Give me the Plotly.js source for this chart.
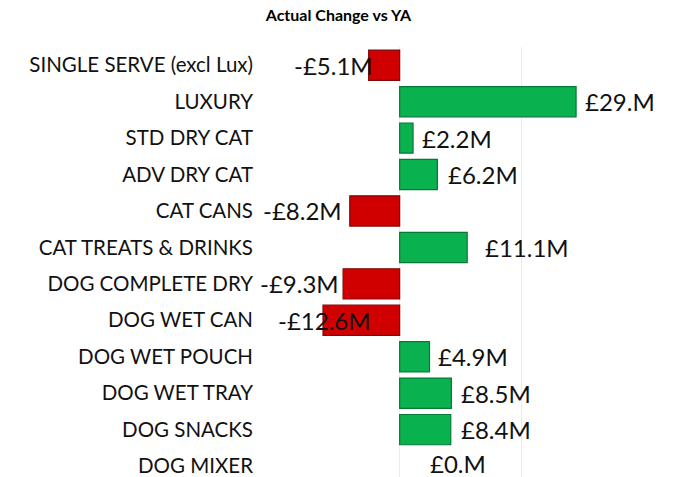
<!DOCTYPE html>
<html>
<head>
<meta charset="utf-8">
<script src="https://cdn.plot.ly/plotly-3.0.1.min.js"></script>
<style>html,body{margin:0;padding:0;background:#fff;}#chart{width:677px;height:477px;}</style>
</head>
<body>
<div id="chart"></div>
<script>
const categories = ['SINGLE SERVE (excl Lux)', 'LUXURY', 'STD DRY CAT', 'ADV DRY CAT', 'CAT CANS', 'CAT TREATS & DRINKS', 'DOG COMPLETE DRY', 'DOG WET CAN', 'DOG WET POUCH', 'DOG WET TRAY', 'DOG SNACKS', 'DOG MIXER'];
const values = [-5.1, 29.0, 2.2, 6.2, -8.2, 11.1, -9.3, -12.6, 4.9, 8.5, 8.4, 0.0];
const valueLabels = ['-£5.1M', '£29.M', '£2.2M', '£6.2M', '-£8.2M', '£11.1M', '-£9.3M', '-£12.6M', '£4.9M', '£8.5M', '£8.4M', '£0.M'];
const xTicks = [-20, 0, 20, 40];

// label placement offsets in pixels (style only)
const labelShift = [6, 7, 7, 9, -6, 16, -2, 50, 7, 8, 8, 28];
const labelLift = [0, 0, 0, 0, 0, 0, 0, 0, 0, 0, 0, 3];

const GREEN = '#0AB14F', GREEN_EDGE = '#067A34';
const RED = '#D10000', RED_EDGE = '#7E0A0A';

const colors = values.map(v => v < 0 ? RED : GREEN);
const edges = values.map(v => v < 0 ? RED_EDGE : GREEN_EDGE);
const edgeWidths = values.map(v => v === 0 ? 0 : 1.2);

const trace = {
  type: 'bar',
  orientation: 'h',
  y: categories,
  x: values,
  marker: {color: colors, line: {color: edges, width: edgeWidths}},
  hoverinfo: 'skip'
};

const annotations = values.map((v, i) => ({
  x: v, y: categories[i], xref: 'x', yref: 'y',
  text: valueLabels[i], showarrow: false,
  xanchor: v < 0 ? 'right' : 'left',
  xshift: labelShift[i],
  yshift: labelLift[i],
  font: {family: 'Lato, "Open Sans", sans-serif', size: 24, color: '#111'}
}));

const layout = {
  width: 677, height: 477,
  margin: {l: 278, r: 34, t: 47, b: 0, pad: 0},
  paper_bgcolor: '#fff', plot_bgcolor: '#fff',
  title: {text: '<b>Actual Change vs YA</b>', x: 0.5, xanchor: 'center', y: 0.968, yanchor: 'middle',
          font: {family: 'Lato, "Open Sans", sans-serif', size: 16, color: '#000'}},
  bargap: 0.17,
  showlegend: false,
  xaxis: {range: [-20, 40], tickvals: xTicks, showticklabels: false, showgrid: true, gridcolor: '#EBEBEB', gridwidth: 1,
          zeroline: true, zerolinecolor: '#EBEBEB', zerolinewidth: 1, showline: false, fixedrange: true},
  yaxis: {type: 'category', range: [11.3, -0.5], showgrid: false, zeroline: false, showline: false,
          ticks: '', ticklabelstandoff: 24,
          tickfont: {family: 'Lato, "Open Sans", sans-serif', size: 20.5, color: '#111'}},
  annotations: annotations
};

Plotly.newPlot('chart', [trace], layout, {staticPlot: true, displayModeBar: false});
</script>
</body>
</html>
